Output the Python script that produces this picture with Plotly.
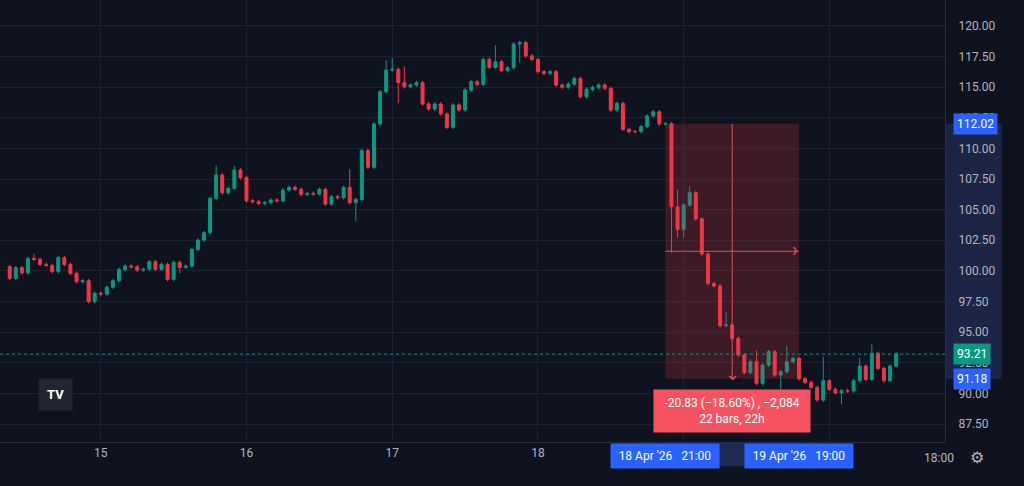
import plotly.graph_objects as go
import pandas as pd

start = "2026-04-14 09:00"
closes = [99.39,100.26,99.85,101.02,100.94,100.53,100.45,99.94,101.08,100.53,99.80,99.12,99.20,97.49,98.17,
          98.11,98.66,99.20,100.13,100.40,100.34,100.07,100.13,100.75,100.13,100.53,99.31,100.70,100.29,100.40,
          101.76,102.52,103.12,105.92,107.83,106.39,106.74,108.24,107.61,105.73,105.65,105.52,105.57,105.79,105.73,
          106.60,106.82,106.66,106.25,106.33,106.28,106.66,105.46,106.06,105.98,106.82,105.57,105.84,109.82,108.46,
          112.00,114.63,116.40,116.46,115.37,115.04,115.18,115.37,113.63,113.22,113.63,112.81,111.72,113.55,113.14,
          114.77,115.45,115.23,117.27,116.62,117.08,116.35,116.59,118.53,118.64,117.55,117.27,116.27,116.13,116.27,
          115.18,114.99,115.26,115.72,114.23,114.83,114.99,115.18,114.91,113.14,113.68,111.56,111.37,111.37,111.78,
          112.65,113.00,112.00,112.02,105.24,103.39,105.38,106.39,104.24,101.38,98.98,98.77,95.53,95.58,94.49,
          93.13,91.69,92.59,90.82,92.31,93.40,91.50,91.77,92.59,92.86,91.19,90.90,90.49,89.46,91.03,
          90.33,90.05,90.22,90.19,91.03,92.23,91.14,93.27,92.04,91.03,92.23,93.21]
first_open = 100.34
# notable wick extremes (bar index -> price)
wick_highs = {4: 101.4, 34: 108.6, 37: 108.6, 56: 108.3, 62: 117.2, 63: 117.4, 65: 116.7, 80: 118.45,
              83: 118.7, 110: 106.6, 112: 106.9, 118: 96.6, 123: 93.5, 128: 93.9, 134: 93.0, 140: 92.9, 142: 94.0}
wick_lows = {28: 99.8, 57: 104.1, 64: 113.7, 84: 117.0, 109: 101.5, 110: 102.7, 111: 102.7, 127: 90.3, 137: 89.1}

opens = [first_open] + closes[:-1]
highs = [max(o, c) + 0.15 for o, c in zip(opens, closes)]
lows = [min(o, c) - 0.15 for o, c in zip(opens, closes)]
for k, v in wick_highs.items():
    highs[k] = max(highs[k], v)
for k, v in wick_lows.items():
    lows[k] = min(lows[k], v)
times = pd.date_range(start, periods=len(closes), freq="h")

GREEN, RED = "#089981", "#f23645"
BG = "#0f131f"
fig = go.Figure(go.Candlestick(x=times, open=opens, high=highs, low=lows, close=closes,
    increasing=dict(line=dict(color=GREEN, width=1), fillcolor=GREEN),
    decreasing=dict(line=dict(color=RED, width=1), fillcolor=RED), whiskerwidth=0, hoverinfo="skip"))

m0, m1 = pd.Timestamp("2026-04-18 21:00"), pd.Timestamp("2026-04-19 19:00")
p0, p1 = 112.02, 91.19
mid_t = pd.Timestamp("2026-04-19 08:00")
mid_p = (p0 + p1) / 2
fig.add_shape(type="rect", x0=m0, x1=m1, y0=p1, y1=p0, fillcolor="rgba(242,54,69,0.2)", line_width=0, layer="above")
fig.add_shape(type="line", x0=m0, x1=m1, y0=mid_p, y1=mid_p, line=dict(color="#e0525e", width=1), layer="above")
fig.add_shape(type="line", x0=mid_t, x1=mid_t, y0=p0, y1=p1, line=dict(color="#e0525e", width=1), layer="above")
fig.add_annotation(x=m1, y=mid_p, text="›", showarrow=False, font=dict(color="#e0525e", size=20), xshift=-4, yshift=1)
fig.add_annotation(x=mid_t, y=p1, text="⌄", showarrow=False, font=dict(color="#e0525e", size=18), yshift=5)
fig.add_annotation(x=mid_t, y=p1, yshift=-32, text="-20.83 (−18.60%) , −2,084<br>22 bars, 22h", showarrow=False,
                   bgcolor="#f7525f", font=dict(color="white", size=12, family="Roboto"), borderpad=6, width=144)
# current price line
fig.add_shape(type="line", xref="paper", x0=0, x1=1, y0=93.21, y1=93.21, line=dict(color=GREEN, width=1, dash="dot"))

# axis highlight range
fig.add_shape(type="rect", x0=m0, x1=m1, yref="paper", y0=-0.055, y1=-0.0, fillcolor="#1f2d54", line_width=0)
for t, txt in [(m0, "18 Apr '26   21:00"), (m1, "19 Apr '26   19:00")]:
    fig.add_annotation(x=t, y=0, yref="paper", yanchor="top", text=txt, showarrow=False, bgcolor="#2962ff",
                       font=dict(color="white", size=12, family="Roboto"), borderpad=5, yshift=-1, width=98)
fig.add_annotation(x=pd.Timestamp("2026-04-20 18:00"), y=0, yref="paper", yanchor="top", yshift=-7, text="18:00",
                   showarrow=False, font=dict(color="#b2b5be", size=12, family="Roboto"))
for p, txt, col in [(112.02, "112.02", "#2962ff"), (93.21, "93.21", GREEN), (91.18, "91.18", "#2962ff")]:
    fig.add_annotation(xref="paper", x=1, xanchor="left", y=p, text=txt, showarrow=False, bgcolor=col,
                       font=dict(color="white", size=12, family="Roboto"), borderpad=3, xshift=8)
fig.add_shape(type="rect", xref="paper", x0=1.0, x1=1.06, y0=p1, y1=p0, fillcolor="#1c2545", line_width=0, layer="below")
# logo and icons
fig.add_annotation(xref="paper", yref="paper", x=0.04, y=0.07, text="<b>TV</b>", showarrow=False,
                   font=dict(color="white", size=13), bgcolor="#222631", borderpad=8)
fig.add_annotation(xref="paper", yref="paper", x=1.043, y=-0.06, text="⚙", showarrow=False,
                   font=dict(color="#b2b5be", size=16))

days = pd.date_range("2026-04-15", "2026-04-20", freq="D")
fig.update_layout(width=1024, height=486, paper_bgcolor=BG, plot_bgcolor=BG, showlegend=False,
    margin=dict(l=0, r=79, t=0, b=44), font=dict(family="Roboto", color="#b2b5be", size=12),
    xaxis=dict(rangeslider_visible=False, range=[pd.Timestamp("2026-04-14 07:24"), pd.Timestamp("2026-04-20 19:03")],
               tickvals=list(days), ticktext=["15", "16", "17", "18", "", ""], gridcolor="#1c2230",
               showline=True, linecolor="#2a2e39", ticks="", zeroline=False),
    yaxis=dict(side="right", range=[86.03, 122.12], tickvals=[87.5 + 2.5 * i for i in range(14)],
               tickformat=".2f", gridcolor="#1c2230", showline=True, linecolor="#2a2e39", zeroline=False,
               ticks="", ticklabelstandoff=10))
fig.write_html("out.html", config={"displayModeBar": False},
               post_script="document.body.style.margin='0';document.body.style.background='%s';" % BG)
